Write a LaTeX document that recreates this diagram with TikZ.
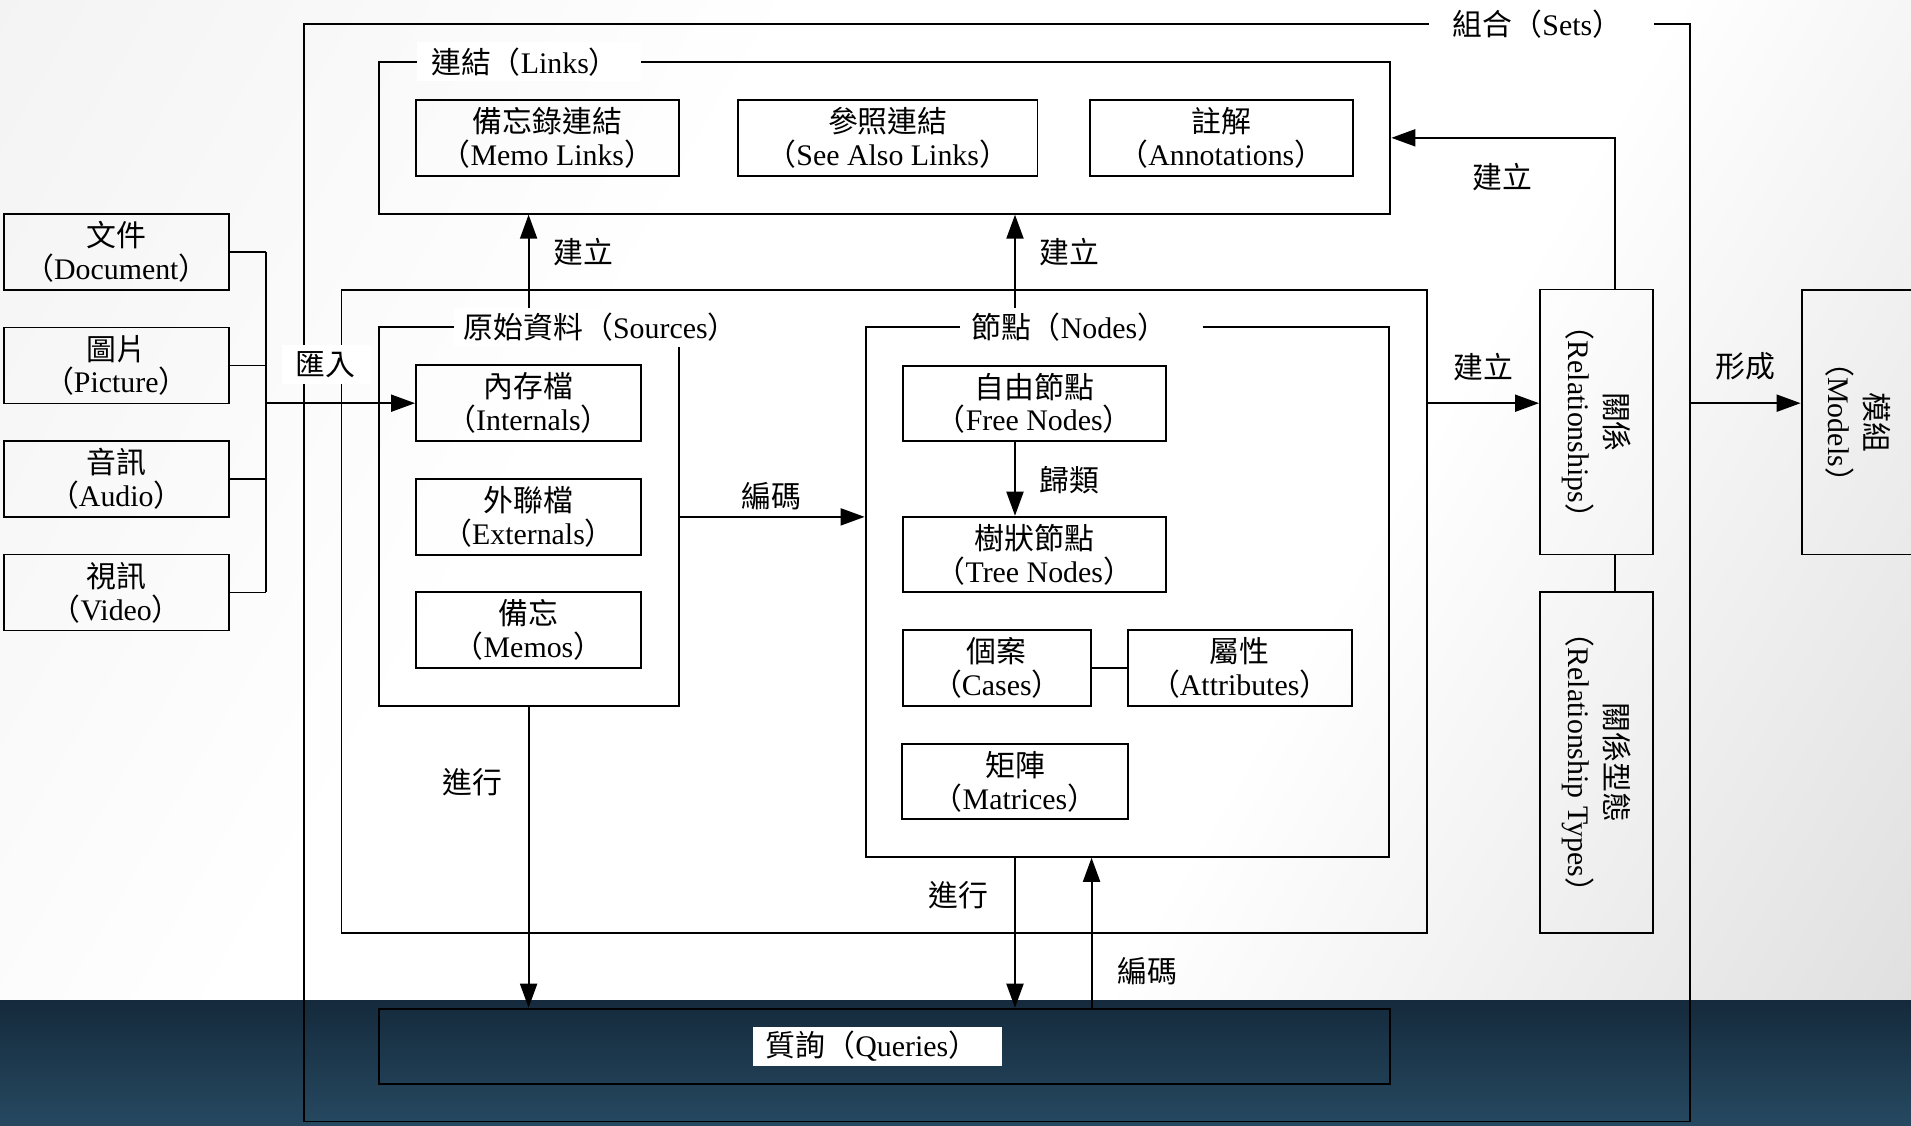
\documentclass[tikz,border=0pt]{standalone}
\usepackage{fontspec}
\setmainfont{Liberation Serif}
\newfontfamily\cjk{Noto Sans CJK TC}
\usetikzlibrary{arrows.meta}
\definecolor{paperA}{HTML}{EBEBEB}
\definecolor{paperB}{HTML}{CACACA}
\definecolor{bandA}{HTML}{152A3C}
\definecolor{bandB}{HTML}{264961}
\pgfdeclarehorizontalshading{paper}{100bp}{color(0bp)=(paperA); color(38bp)=(white); color(62bp)=(white); color(100bp)=(paperB)}
\newcommand\zh[1]{{\cjk #1}}
\newcommand\bi[2]{\zh{#1}\\\zh{（}#2\zh{）}}
\newcommand\tg[2]{\zh{#1（}#2\zh{）}}
\newcommand\boxfont{\fontsize{8.5pt}{9.3pt}\selectfont}
\tikzset{
  frame/.style={draw=black, line width=0.55pt, inner sep=0pt},
  box/.style={frame, align=center, font=\boxfont},
  tag/.style={fill=white, font=\boxfont, align=left, anchor=west, inner ysep=0.3mm, minimum height=3.9mm},
  note/.style={font=\boxfont},
  wire/.style={draw=black, line width=0.55pt},
  link/.style={wire, -{Triangle[length=2.4mm,width=1.7mm]}},
  side/.style={font=\fontsize{8.5pt}{10.5pt}\selectfont, align=center, rotate=-90},
}

\begin{document}
\begin{tikzpicture}[x=0.1mm, y=-0.1mm]
  \useasboundingbox (0,0) rectangle (1911,1126);
  \fill[shading=paper, shading angle=-30] (0,0) rectangle (1911,1001);
  \fill[top color=bandA, bottom color=bandB] (0,1001) rectangle (1911,1126);

  \node[frame, minimum width=138.61mm, minimum height=109.75mm] (sets) at (996.65,572.75) {};
  \node[frame, minimum width=101.18mm, minimum height=15.17mm] (links) at (884.5,137.85) {};
  \node[frame, minimum width=108.55mm, minimum height=64.28mm] (work) at (884.25,611.4) {};
  \node[frame, minimum width=30mm, minimum height=37.9mm] (src) at (528.6,516.2) {};
  \node[frame, minimum width=52.38mm, minimum height=53.01mm] (nod) at (1127.5,591.75) {};
  \node[frame, minimum width=101.12mm, minimum height=7.56mm] (qry) at (884.4,1046.5) {};

  \node[box, minimum width=26.26mm, minimum height=7.6mm] (memo) at (547.3,138) {\bi{備忘錄連結}{Memo Links}};
  \node[box, minimum width=29.95mm, minimum height=7.6mm] (see) at (887.75,138) {\bi{參照連結}{See Also Links}};
  \node[box, minimum width=26.26mm, minimum height=7.6mm] (anno) at (1221.3,138) {\bi{註解}{Annotations}};

  \foreach \n/\zhn/\enn [count=\i from 0] in {doc/文件/Document, pic/圖片/Picture, aud/音訊/Audio, vid/視訊/Video}
    \node[box, minimum width=22.54mm, minimum height=7.6mm] (\n) at (116.3,252+113.5*\i) {\bi{\zhn}{\enn}};

  \node[box, minimum width=22.5mm, minimum height=7.57mm] (int) at (528.5,403.2) {\bi{內存檔}{Internals}};
  \node[box, minimum width=22.5mm, minimum height=7.57mm] (ext) at (528.5,516.9) {\bi{外聯檔}{Externals}};
  \node[box, minimum width=22.5mm, minimum height=7.57mm] (memos) at (528.5,630.2) {\bi{備忘}{Memos}};

  \node[box, minimum width=26.26mm, minimum height=7.54mm] (free) at (1034.3,403.3) {\bi{自由節點}{Free Nodes}};
  \node[box, minimum width=26.26mm, minimum height=7.56mm] (tree) at (1034.3,554.5) {\bi{樹狀節點}{Tree Nodes}};
  \node[box, minimum width=18.76mm, minimum height=7.57mm] (cases) at (996.8,667.85) {\bi{個案}{Cases}};
  \node[box, minimum width=22.39mm, minimum height=7.57mm] (attr) at (1239.65,667.85) {\bi{屬性}{Attributes}};
  \node[box, minimum width=22.52mm, minimum height=7.53mm] (matr) at (1015,781.65) {\bi{矩陣}{Matrices}};

  \node[box, minimum width=11.26mm, minimum height=26.5mm, label={[side]center:\bi{關係}{Relationships}}] (rel) at (1596.3,422) {};
  \node[box, minimum width=11.26mm, minimum height=34.03mm, label={[side]center:\bi{關係型態}{Relationship Types}}] (rtyp) at (1596.3,762.45) {};
  \node[box, minimum width=11.34mm, minimum height=26.45mm, label={[side]center:\bi{模組}{Models}}] (mod) at (1858.3,422.25) {};

  \coordinate (bus) at (266,403.2);
  \foreach \n in {doc,pic,aud,vid}
    \draw[wire] (\n.east) -- (\n.east -| bus);
  \draw[wire] (doc.east -| bus) -- (vid.east -| bus);
  \draw[link] (bus) -- (int.west);

  \draw[link] (src.north) -- (src.north |- links.south);
  \draw[link] (nod.north -| matr) -- (links.south -| matr);
  \draw[link] (src.east |- ext) -- (ext -| nod.west);
  \draw[link] (free.south -| matr) -- (tree.north -| matr);
  \draw[wire] (cases) -- (attr);
  \draw[link] (src.south) -- (src.south |- qry.north);
  \draw[link] (nod.south -| matr) -- (qry.north -| matr);
  \draw[link] (qry.north -| cases.east) -- (nod.south -| cases.east);
  \draw[link] (work.east |- int) -- (rel.west |- int);
  \draw[link] ([xshift=1.87mm]rel.north) |- (links.east);
  \draw[wire] ([xshift=1.87mm]rel.south) -- ([xshift=1.87mm]rtyp.north);
  \draw[link] (sets.east |- int) -- (mod.west |- int);

  \node[tag, inner xsep=2.35mm, text width=17.75mm] (setstag) at (1428.6,24) {\tg{組合}{Sets}};
  \node[tag, inner xsep=1.45mm, text width=19.5mm] (linkstag) at (416,62) {\tg{連結}{Links}};
  \node[tag, inner xsep=1mm, text width=31.7mm] (srctag) at (453,327.5) {\tg{原始資料}{Sources}};
  \node[tag, inner xsep=1.15mm, text width=22.07mm] (nodtag) at (959,327.5) {\tg{節點}{Nodes}};
  \node[tag, inner xsep=1.25mm, text width=22.36mm] (qrytag) at (752.6,1046.6) {\tg{質詢}{Queries}};
  \node[tag, inner xsep=1.36mm, text width=6.18mm] (intag) at (281,365) {\zh{匯入}};

  \foreach \p/\w [count=\k] in {{583,252}/建立, {1069.6,252}/建立, {1502.6,176.7}/建立, {1483,366.7}/建立,
      {1745.7,366.7}/形成, {771.4,496.7}/編碼, {1069.6,480}/歸類, {472,781.7}/進行, {958,895}/進行, {1147,971.7}/編碼}
    \node[note] (mk\k) at (\p) {\zh{\w}};
\end{tikzpicture}
\end{document}
